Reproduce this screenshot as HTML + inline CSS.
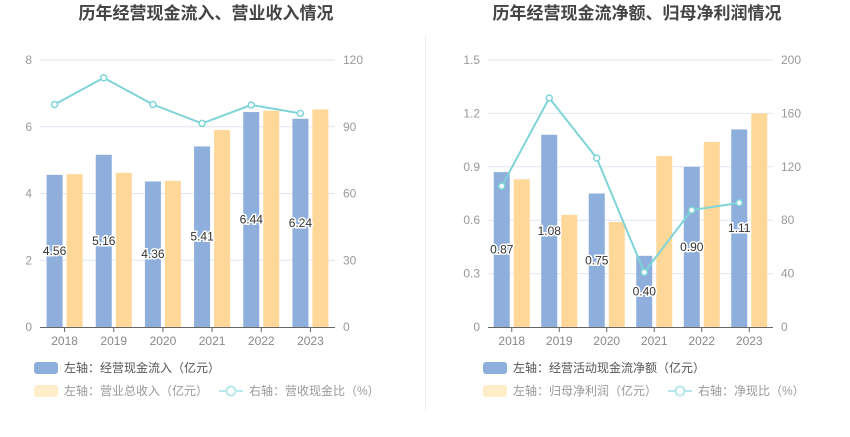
<!DOCTYPE html>
<html><head><meta charset="utf-8">
<style>
html,body{margin:0;padding:0;background:#fff;width:850px;height:437px;overflow:hidden}
svg{display:block;font-family:"Liberation Sans","Noto Sans CJK SC",sans-serif}
</style></head>
<body>
<svg id="root" width="850" height="437" viewBox="0 0 850 437">
<line x1="425.5" y1="35" x2="425.5" y2="410" stroke="#eeeeee"/>
</svg>
<script>
const years = ["2018","2019","2020","2021","2022","2023"];
const leftBlue = [4.56,5.16,4.36,5.41,6.44,6.24];
const leftYellow = [4.58,4.62,4.38,5.90,6.48,6.52];
const leftLine = [100,112,100,91.5,99.8,96];
const leftTicksL = [0,2,4,6,8];
const leftTicksR = [0,30,60,90,120];
const rightBlue = [0.87,1.08,0.75,0.40,0.90,1.11];
const rightYellow = [0.83,0.63,0.59,0.96,1.04,1.20];
const rightLine = [105.5,171.5,126.5,41,87.5,93];
const rightTicksL = [0,0.3,0.6,0.9,1.2,1.5];
const rightTickLabelsL = ["0","0.3","0.6","0.9","1.2","1.5"];
const rightTicksR = [0,40,80,120,160,200];

const NS="http://www.w3.org/2000/svg";
const root=document.getElementById('root');
function mk(tag,attrs,parent,text){const e=document.createElementNS(NS,tag);for(const k in attrs)e.setAttribute(k,attrs[k]);if(text!==undefined)e.textContent=text;(parent||root).appendChild(e);return e;}

function chart(cfg){
  const g=mk('g',{});
  
  
  const top=60,bot=327,x0=cfg.x0,x1=cfg.x1;
  const lMax=cfg.ticksL[cfg.ticksL.length-1], rMax=cfg.ticksR[cfg.ticksR.length-1];
  const yL=v=>bot-v/lMax*(bot-top);
  const yR=v=>bot-v/rMax*(bot-top);
  const band=(x1-x0)/years.length;
  const cx=i=>x0+band*(i+0.5);
  const t=mk('text',{x:cfg.titleX,y:19,'text-anchor':'middle','font-size':'17','font-weight':'bold',fill:'#444'},g,cfg.title);
  
  
  cfg.ticksL.forEach((v,i)=>{
    const y=yL(v);
    if(i>0){const gl=mk('line',{x1:x0,x2:x1,y1:y,y2:y,stroke:'#e0e6f1'},g);
      }
    const tl=mk('text',{x:x0-8,y:y+4,'text-anchor':'end','font-size':'12',fill:'#999'},g,cfg.labelsL[i]);
    
  });
  cfg.ticksR.forEach(v=>{
    const tr=mk('text',{x:x1+8,y:yR(v)+4,'text-anchor':'start','font-size':'12',fill:'#999'},g,String(v));
    
  });
  years.forEach((yr,i)=>{
    const b=mk('rect',{x:cx(i)-18,y:yL(cfg.blue[i]),width:16,height:bot-yL(cfg.blue[i]),fill:'#8eaedb'},g);
    
    const yb=mk('rect',{x:cx(i)+2,y:yL(cfg.yellow[i]),width:16,height:bot-yL(cfg.yellow[i]),fill:'#ffd899'},g);
    
    const xl=mk('text',{x:cx(i),y:345,'text-anchor':'middle','font-size':'12',fill:'#888'},g,yr);
    
    const tk=mk('line',{x1:cx(i),x2:cx(i),y1:bot,y2:bot+5,stroke:'#666'},g);
    
  });
  const ax=mk('line',{x1:x0,x2:x1,y1:bot+0.5,y2:bot+0.5,stroke:'#666'},g);
  
  const pts=cfg.line.map((v,i)=>cx(i)-10+','+yR(v)).join(' ');
  const pl=mk('polyline',{points:pts,fill:'none',stroke:'#7fd4d8','stroke-width':'2'},g);
  
  cfg.line.forEach((v,i)=>{
    const c=mk('circle',{cx:cx(i)-10,cy:yR(v),r:3,fill:'#fff',stroke:'#7fd4d8','stroke-width':'1.5'},g);
    
  });
  cfg.blue.forEach((v,i)=>{
    const y=(yL(v)+bot)/2+4;
    const l=mk('text',{x:cx(i)-10,y:y,'text-anchor':'middle','font-size':'12',fill:'#333',stroke:'#fff','stroke-width':'3','paint-order':'stroke'},g,v.toFixed(2));
    
  });
  // legend
  const lx=cfg.legendX;
  const r1=mk('rect',{x:lx,y:362,width:24,height:12,rx:3,fill:'#8eaedb'},g);
  
  const t1=mk('text',{x:lx+30,y:372,'font-size':'12',fill:'#555'},g,cfg.leg1);
  
  const r2=mk('rect',{x:lx,y:385,width:24,height:12,rx:3,fill:'#ffecc9'},g);
  
  const t2=mk('text',{x:lx+30,y:395,'font-size':'12',fill:'#999'},g,cfg.leg2);
  
  const ll=mk('line',{x1:lx+cfg.leg3dx,x2:lx+cfg.leg3dx+24,y1:391,y2:391,stroke:'#b8e8ea','stroke-width':'2'},g);
  
  const lc=mk('circle',{cx:lx+cfg.leg3dx+12,cy:391,r:4.5,fill:'#fff',stroke:'#b8e8ea','stroke-width':'2'},g);
  
  const t3=mk('text',{x:lx+cfg.leg3dx+30,y:395,'font-size':'12',fill:'#999'},g,cfg.leg3);
  
}
chart({name:'left-chart',x0:40,x1:335,titleX:206,title:'历年经营现金流入、营业收入情况',ticksL:leftTicksL,labelsL:leftTicksL.map(String),ticksR:leftTicksR,blue:leftBlue,yellow:leftYellow,line:leftLine,legendX:34,leg1:'左轴：经营现金流入（亿元）',leg2:'左轴：营业总收入（亿元）',leg3:'右轴：营收现金比（%）',leg3dx:185});
chart({name:'right-chart',x0:488,x1:773,titleX:637,title:'历年经营现金流净额、归母净利润情况',ticksL:rightTicksL,labelsL:rightTickLabelsL,ticksR:rightTicksR,blue:rightBlue,yellow:rightYellow,line:rightLine,legendX:483,leg1:'左轴：经营活动现金流净额（亿元）',leg2:'左轴：归母净利润（亿元）',leg3:'右轴：净现比（%）',leg3dx:185});
</script>
</body></html>
